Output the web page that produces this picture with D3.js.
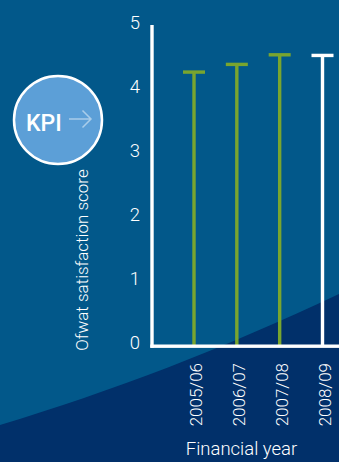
<!DOCTYPE html>
<html>
<head>
<meta charset="utf-8">
<script src="https://cdn.jsdelivr.net/npm/d3@7"></script>
<style>
  html, body { margin: 0; padding: 0; background: #02588a; }
  svg { display: block; }
  text { font-family: Roboto, "Noto Sans", sans-serif; fill: #ffffff; }
</style>
</head>
<body>
<svg id="chart" width="339" height="462"></svg>
<script>
// Ofwat satisfaction score by financial year
const years = ["2005/06", "2006/07", "2007/08", "2008/09"];
const scores = [4.28, 4.40, 4.55, 4.54];
const yTicks = [0, 1, 2, 3, 4, 5];
const yTitle = "Ofwat satisfaction score";
const xTitle = "Financial year";
const badgeText = "KPI";

const W = 339, H = 462;
const svg = d3.select("#chart");

const colTop = "#02588a";
const colNavy = "#01306a";
const colGreen = "#79a52f";
const colBadge = "#5c9fd7";
const colArrow = "#a9cdea";

// background
svg.append("rect").attr("width", W).attr("height", H).attr("fill", colTop);

// sweeping navy wave across the lower part
const wave = d3.path();
wave.moveTo(0, 425);
wave.bezierCurveTo(110, 392, 225, 348, W, 294);
wave.lineTo(W, H);
wave.lineTo(0, H);
wave.closePath();
svg.append("path").attr("d", wave.toString()).attr("fill", colNavy);

// scales
const y = d3.scaleLinear().domain([0, 5]).range([346, 26]);
const x = d3.scalePoint().domain(years).range([194, 322.5]);

const axisX = 152;
const baseY = y(0);

// bars: stem + cap
const bars = svg.append("g");
const stemW = 3.4, capW = 22, capH = 3.4;
years.forEach((yr, i) => {
  const c = i === years.length - 1 ? "#ffffff" : colGreen;
  const cx = x(yr);
  const top = y(scores[i]);
  bars.append("rect")
    .attr("x", cx - stemW / 2).attr("y", top)
    .attr("width", stemW).attr("height", baseY - top)
    .attr("fill", c);
  bars.append("rect")
    .attr("x", cx - capW / 2).attr("y", top - capH / 2)
    .attr("width", capW).attr("height", capH)
    .attr("fill", c);
});

// axes lines
svg.append("rect")
  .attr("x", axisX - 1.7).attr("y", y(5) - 1)
  .attr("width", 3.4).attr("height", baseY - y(5) + 2.7)
  .attr("fill", "#ffffff");
svg.append("rect")
  .attr("x", axisX - 1.7).attr("y", baseY - 1.5)
  .attr("width", W - axisX + 2).attr("height", 3.4)
  .attr("fill", "#ffffff");

// y tick labels
svg.append("g").selectAll("text")
  .data(yTicks).join("text")
  .attr("x", 140)
  .attr("y", d => y(d) - 4)
  .attr("dy", "0.36em")
  .attr("text-anchor", "end")
  .attr("font-size", 18.5)
  .attr("font-weight", 300)
  .text(d => d);

// x tick labels (vertical)
svg.append("g").selectAll("text")
  .data(years).join("text")
  .attr("transform", d => `translate(${x(d) + 8},363) rotate(-90)`)
  .attr("text-anchor", "end")
  .attr("font-size", 17)
  .attr("font-weight", 300)
  .text(d => d);

// axis titles
svg.append("text")
  .attr("transform", "translate(88,260) rotate(-90)")
  .attr("text-anchor", "middle")
  .attr("font-size", 17)
  .attr("font-weight", 300)
  .text(yTitle);

svg.append("text")
  .attr("x", 241.5).attr("y", 455)
  .attr("text-anchor", "middle")
  .attr("font-size", 18.5)
  .attr("font-weight", 300)
  .text(xTitle);

// KPI badge
const badge = svg.append("g");
badge.append("circle")
  .attr("cx", 58).attr("cy", 120).attr("r", 44)
  .attr("fill", colBadge)
  .attr("stroke", "#ffffff").attr("stroke-width", 2.5);
badge.append("text")
  .attr("x", 26).attr("y", 131)
  .attr("font-size", 23)
  .attr("font-weight", 500)
  .text(badgeText);
const arrow = d3.path();
arrow.moveTo(69, 119); arrow.lineTo(91, 119);
arrow.moveTo(82.5, 110.5); arrow.lineTo(91, 119); arrow.lineTo(82.5, 127.5);
badge.append("path")
  .attr("d", arrow.toString())
  .attr("fill", "none")
  .attr("stroke", colArrow)
  .attr("stroke-width", 1.5);
</script>
</body>
</html>
